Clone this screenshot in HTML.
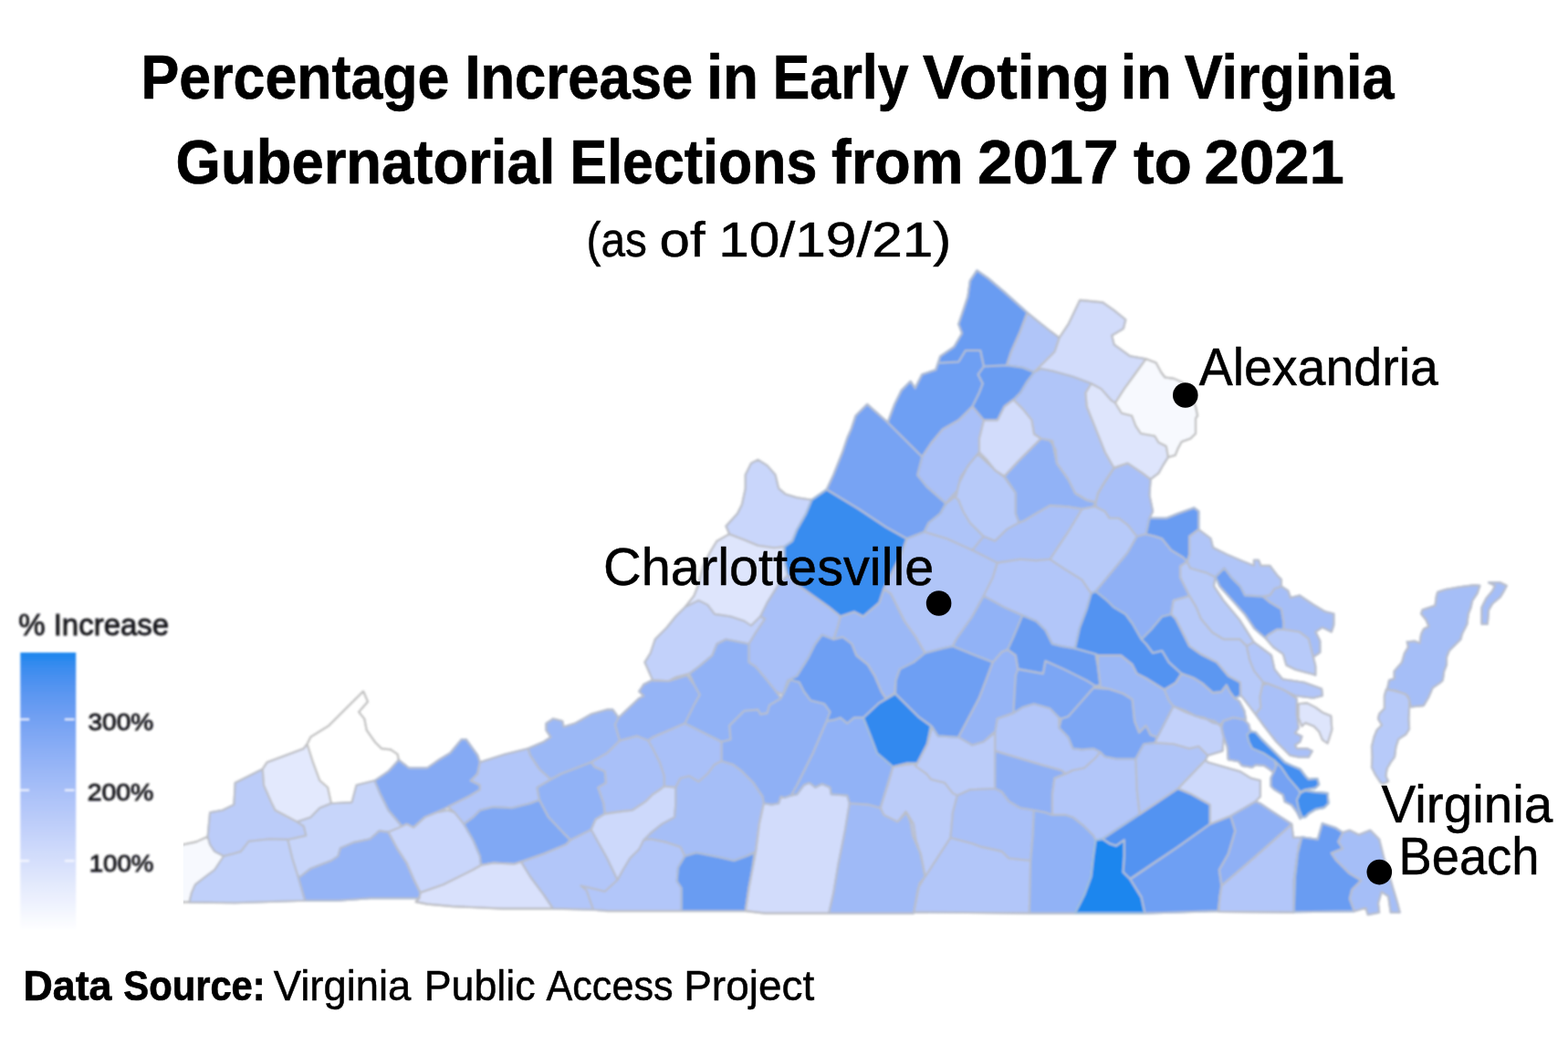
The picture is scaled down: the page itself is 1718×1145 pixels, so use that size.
<!DOCTYPE html>
<html lang="en">
<head>
<meta charset="utf-8">
<title>Percentage Increase in Early Voting in Virginia Gubernatorial Elections from 2017 to 2021</title>
<style>
html,body{margin:0;padding:0;background:#fff;}
body{width:1718px;height:1145px;overflow:hidden;font-family:"Liberation Sans",sans-serif;}
svg{display:block;}
text{font-family:"Liberation Sans",sans-serif;fill:#000;}
.b{font-weight:bold;stroke:#000;stroke-width:0.7;}
.r{font-weight:normal;stroke:#000;stroke-width:0.5;}
.lg{fill:#1a1a1f;stroke:#1a1a1f;stroke-width:0.9;}
</style>
</head>
<body>
<svg width="1718" height="1145" viewBox="0 0 1718 1145" role="img" aria-label="Choropleth map of Virginia counties: percentage increase in early voting, 2017 to 2021">
<defs>
<linearGradient id="lg" x1="0" y1="0" x2="0" y2="1">
<stop offset="0.000" stop-color="#1c86ee"/>
<stop offset="0.050" stop-color="#398cef"/>
<stop offset="0.100" stop-color="#4c91f0"/>
<stop offset="0.150" stop-color="#5c97f1"/>
<stop offset="0.200" stop-color="#699cf2"/>
<stop offset="0.250" stop-color="#75a2f3"/>
<stop offset="0.300" stop-color="#80a8f4"/>
<stop offset="0.350" stop-color="#8baef5"/>
<stop offset="0.400" stop-color="#95b4f6"/>
<stop offset="0.450" stop-color="#9fbaf7"/>
<stop offset="0.500" stop-color="#a9c0f8"/>
<stop offset="0.550" stop-color="#b2c6f9"/>
<stop offset="0.600" stop-color="#bbccf9"/>
<stop offset="0.650" stop-color="#c4d2fa"/>
<stop offset="0.700" stop-color="#cdd9fb"/>
<stop offset="0.750" stop-color="#d5dffc"/>
<stop offset="0.800" stop-color="#dee5fc"/>
<stop offset="0.850" stop-color="#e6ecfd"/>
<stop offset="0.900" stop-color="#eef2fe"/>
<stop offset="0.950" stop-color="#f7f9fe"/>
<stop offset="1.000" stop-color="#ffffff"/>
</linearGradient>
<filter id="bl" x="-2%" y="-2%" width="104%" height="104%"><feGaussianBlur stdDeviation="1.0"/></filter>
<filter id="bt" x="-5%" y="-5%" width="110%" height="110%"><feGaussianBlur stdDeviation="0.9"/></filter>
<clipPath id="mc"><rect x="200.8" y="285" width="1500" height="730"/></clipPath>
</defs>
<rect width="1718" height="1145" fill="#ffffff"/>
<g id="map" filter="url(#bl)" clip-path="url(#mc)">
<g id="fills" stroke-width="2" stroke-linejoin="round">
<polygon fill="#f7f9fe" stroke="#f7f9fe" points="195.0,926.7 215.1,922.4 227.6,916.7 230.1,925.4 235.1,932.9 245.1,938.0 240.1,945.5 235.1,953.0 225.1,960.5 213.8,969.3 210.0,978.1 207.5,988.1 195.0,988.6"/>
<polygon fill="#c0d0fa" stroke="#c0d0fa" points="210.0,978.1 213.8,969.3 225.1,960.5 235.1,953.0 240.1,945.5 245.1,938.0 255.2,935.5 263.9,932.9 272.7,921.7 295.2,919.2 315.3,919.9 320.3,940.5 326.6,960.5 334.1,986.8 257.7,989.3 207.5,988.6"/>
<polygon fill="#bbccf9" stroke="#bbccf9" points="227.6,916.7 230.1,890.3 243.9,887.8 256.4,881.6 257.7,857.8 272.7,850.3 287.7,842.7 289.0,860.3 297.8,880.3 301.5,887.8 325.3,900.4 332.8,905.4 335.3,915.4 315.3,919.9 295.2,919.2 272.7,921.7 263.9,932.9 255.2,935.5 245.1,938.0 235.1,932.9 230.1,925.4"/>
<polygon fill="#e3e9fd" stroke="#e3e9fd" points="287.7,842.7 292.7,835.2 312.8,827.7 332.8,820.2 336.6,815.2 342.9,835.2 350.4,855.3 359.1,862.8 362.9,880.3 350.4,885.3 340.3,895.4 325.3,900.4 301.5,887.8 297.8,880.3 289.0,860.3"/>
<polygon fill="#ffffff" stroke="#ffffff" points="336.6,815.2 340.3,807.7 360.4,795.1 398.0,757.5 403.0,768.8 393.0,780.1 399.2,787.6 401.7,800.1 410.5,812.7 418.0,820.2 428.1,821.4 435.6,826.5 436.8,832.7 425.5,845.2 410.5,855.3 390.5,860.3 385.5,879.1 362.9,880.3 359.1,862.8 350.4,855.3 342.9,835.2"/>
<polygon fill="#c7d5fa" stroke="#c7d5fa" points="362.9,880.3 385.5,879.1 390.5,860.3 410.5,855.3 416.8,870.3 425.5,887.8 438.1,902.9 440.6,905.4 425.5,911.6 415.5,910.4 405.5,919.2 388.0,922.9 372.9,929.2 370.4,938.0 362.9,943.0 340.3,951.7 329.1,960.5 326.6,960.5 320.3,940.5 315.3,919.9 335.3,915.4 332.8,905.4 325.3,900.4 340.3,895.4 350.4,885.3"/>
<polygon fill="#85aaf4" stroke="#85aaf4" points="410.5,855.3 425.5,845.2 436.8,832.7 448.1,841.5 468.1,841.5 480.7,832.7 493.2,825.2 505.7,810.2 510.7,810.2 523.3,827.7 525.8,835.2 523.3,847.8 515.8,855.3 525.8,860.3 525.8,865.3 513.3,872.8 490.7,884.1 478.2,890.3 465.6,895.4 453.1,906.6 445.6,902.9 440.6,905.4 425.5,887.8 416.8,870.3"/>
<polygon fill="#95b4f6" stroke="#95b4f6" points="329.1,960.5 340.3,951.7 362.9,943.0 370.4,938.0 372.9,929.2 388.0,922.9 405.5,919.2 415.5,910.4 425.5,911.6 435.6,930.4 445.6,945.5 453.1,963.0 460.6,978.1 459.4,984.3 405.5,984.3 370.4,986.8 334.1,986.8 326.6,960.5"/>
<polygon fill="#c9d6fb" stroke="#c9d6fb" points="425.5,911.6 440.6,905.4 445.6,902.9 453.1,906.6 465.6,895.4 478.2,890.3 490.7,887.8 498.2,890.3 508.2,902.9 518.3,920.4 525.8,938.0 527.0,948.0 518.3,953.0 485.7,969.3 460.6,978.1 453.1,963.0 445.6,945.5 435.6,930.4"/>
<polygon fill="#b2c6f9" stroke="#b2c6f9" points="525.8,835.2 553.3,826.5 578.4,820.2 580.9,827.7 590.9,842.7 603.5,854.0 588.4,862.8 590.9,876.6 580.9,880.3 560.9,885.3 540.8,884.1 525.8,887.8 518.3,895.4 508.2,902.9 498.2,890.3 490.7,884.1 513.3,872.8 525.8,865.3 525.8,860.3 515.8,855.3 523.3,847.8"/>
<polygon fill="#80a8f4" stroke="#80a8f4" points="508.2,902.9 518.3,895.4 525.8,887.8 540.8,884.1 560.9,885.3 580.9,880.3 590.9,876.6 601.0,895.4 617.5,912.9 625.0,920.4 620.0,925.4 595.9,935.5 570.9,944.2 563.4,946.7 540.8,945.5 527.0,948.0 525.8,938.0 518.3,920.4"/>
<polygon fill="#d9e1fc" stroke="#d9e1fc" points="460.6,978.1 485.7,969.3 518.3,953.0 527.0,948.0 540.8,945.5 563.4,946.7 570.9,944.2 580.9,960.5 595.9,980.6 606.0,995.6 550.8,995.6 495.7,993.1 468.1,990.6 455.6,988.1 459.4,984.3"/>
<polygon fill="#9bb8f6" stroke="#9bb8f6" points="578.5,820.2 596.0,812.7 603.5,807.7 598.5,800.1 598.5,792.6 606.0,787.6 616.1,790.1 617.6,796.4 630.1,792.6 647.6,782.6 665.2,777.6 671.4,777.6 677.7,786.4 673.9,793.9 679.0,811.4 665.2,825.2 647.6,835.2 615.1,847.8 603.5,854.0 591.0,842.7 581.0,827.7"/>
<polygon fill="#95b4f6" stroke="#95b4f6" points="677.7,786.4 700.3,765.1 705.3,762.6 700.3,757.5 705.3,750.0 715.3,745.0 732.8,746.3 752.9,740.0 760.4,750.0 766.7,761.3 760.4,772.6 750.4,792.6 715.3,807.7 710.3,811.4 697.8,806.4 679.0,811.4 673.9,793.9"/>
<polygon fill="#91b2f6" stroke="#91b2f6" points="603.5,854.0 615.1,847.8 647.6,835.2 651.4,840.2 662.7,845.2 663.9,857.8 655.2,862.8 661.4,880.3 662.7,891.6 652.6,897.9 647.6,909.1 625.1,920.4 617.6,912.9 601.0,895.4 591.0,876.6 588.5,862.8"/>
<polygon fill="#a9c0f8" stroke="#a9c0f8" points="679.0,811.4 697.8,806.4 710.3,811.4 715.3,820.2 722.8,835.2 727.8,850.3 727.8,861.5 722.8,865.3 715.3,870.3 707.8,877.8 692.7,887.8 680.2,889.1 662.7,891.6 661.4,880.3 655.2,862.8 663.9,857.8 662.7,845.2 651.4,840.2 647.6,835.2 665.2,825.2"/>
<polygon fill="#a9c0f8" stroke="#a9c0f8" points="710.3,811.4 715.3,807.7 750.4,792.6 790.5,812.7 790.5,834.0 782.9,837.7 775.4,847.8 765.4,856.5 755.4,850.3 745.4,852.8 740.3,862.8 727.8,861.5 727.8,850.3 722.8,835.2 715.3,820.2"/>
<polygon fill="#cdd9fb" stroke="#cdd9fb" points="727.8,861.5 740.3,862.8 740.3,880.3 739.1,895.4 725.3,902.9 712.8,912.9 705.3,920.4 700.3,930.4 690.2,940.5 682.7,953.0 676.5,964.3 665.2,940.5 647.6,909.1 652.6,897.9 662.7,891.6 680.2,889.1 692.7,887.8 707.8,877.8 715.3,870.3 722.8,865.3"/>
<polygon fill="#a5bef7" stroke="#a5bef7" points="740.3,862.8 745.4,852.8 755.4,850.3 765.4,856.5 775.4,847.8 782.9,837.7 790.5,834.0 803.0,837.7 813.0,845.2 825.5,857.8 835.6,872.8 836.8,880.3 831.8,902.9 828.1,932.9 818.0,938.0 804.2,943.0 788.0,939.2 762.9,934.2 750.4,938.0 745.4,927.9 730.3,922.9 712.8,919.2 705.3,920.4 712.8,912.9 725.3,902.9 739.1,895.4 740.3,880.3"/>
<polygon fill="#b2c6f9" stroke="#b2c6f9" points="676.5,964.3 682.7,953.0 690.2,940.5 700.3,930.4 705.3,920.4 712.8,919.2 730.3,922.9 745.4,927.9 750.4,938.0 742.9,950.5 741.6,965.5 746.6,973.0 746.6,998.1 665.2,998.1 650.1,996.8 642.6,975.5 636.4,970.5 652.6,974.3 662.7,976.8"/>
<polygon fill="#b2c6f9" stroke="#b2c6f9" points="571.0,944.2 596.0,935.5 620.1,925.4 625.1,920.4 647.6,909.1 665.2,940.5 676.5,964.3 662.7,976.8 652.6,974.3 636.4,970.5 642.6,975.5 650.1,996.8 606.0,995.6 596.0,980.6 581.0,960.5"/>
<polygon fill="#699cf2" stroke="#699cf2" points="750.4,938.0 762.9,934.2 788.0,939.2 804.2,943.0 818.0,938.0 826.8,934.2 824.3,953.0 820.5,973.0 816.8,998.1 746.6,998.1 746.6,973.0 741.6,965.5 742.9,950.5"/>
<polygon fill="#d2dcfb" stroke="#d2dcfb" points="836.8,880.3 845.6,881.6 853.1,880.3 855.6,872.8 859.4,874.1 866.9,871.6 873.2,870.3 880.7,860.3 886.9,857.8 893.2,862.8 900.7,859.0 909.5,862.8 910.7,870.3 928.3,871.6 930.8,880.3 925.8,910.4 918.3,948.0 913.3,978.1 908.2,1000.6 838.1,1000.6 816.8,998.1 820.5,973.0 824.3,953.0 828.1,932.9 831.8,902.9"/>
<polygon fill="#8fb0f5" stroke="#8fb0f5" points="790.5,812.7 800.5,810.2 799.2,795.1 815.5,778.8 830.6,777.6 833.1,782.6 840.6,781.3 843.1,772.6 855.6,765.1 861.9,752.5 865.6,745.0 875.7,747.5 880.7,757.5 888.2,767.6 903.2,771.3 909.5,780.1 905.7,790.1 890.7,825.2 873.2,860.3 866.9,871.6 859.4,874.1 855.6,872.8 853.1,880.3 845.6,881.6 836.8,880.3 835.6,872.8 825.5,857.8 813.0,845.2 803.0,837.7 790.5,834.0"/>
<polygon fill="#91b2f6" stroke="#91b2f6" points="905.7,790.1 913.3,788.9 920.8,786.4 928.3,792.6 935.8,786.4 945.8,786.4 953.3,805.2 960.9,825.2 978.4,840.2 973.4,857.8 964.6,885.3 950.8,881.6 930.8,880.3 928.3,871.6 910.7,870.3 909.5,862.8 900.7,859.0 893.2,862.8 886.9,857.8 880.7,860.3 873.2,870.3 866.9,871.6 873.2,860.3 890.7,825.2"/>
<polygon fill="#3089ef" stroke="#3089ef" points="945.8,786.4 963.4,770.1 980.9,760.0 990.9,770.1 1006.0,785.1 1020.0,795.1 1016.0,815.2 1005.0,836.5 993.4,837.7 978.4,840.2 960.9,825.2 953.3,805.2"/>
<polygon fill="#9fbaf7" stroke="#9fbaf7" points="930.8,880.3 950.8,881.6 964.6,885.3 968.4,892.9 983.4,900.4 993.4,890.3 1001.0,902.9 1003.5,920.4 1008.5,935.5 1013.5,960.5 1006.0,973.0 1001.0,1000.6 908.2,1000.6 913.3,978.1 918.3,948.0 925.8,910.4"/>
<polygon fill="#bbccf9" stroke="#bbccf9" points="1005.0,836.5 1002.5,839.0 1015.1,847.8 1020.1,854.0 1035.1,857.8 1043.9,869.1 1048.9,871.6 1043.9,890.3 1041.4,917.9 1013.8,960.5 1008.8,935.5 1000.0,915.4 997.5,900.4 992.5,889.1 983.5,900.4 968.4,892.9 964.7,885.3 978.5,840.2 993.5,836.5"/>
<polygon fill="#bbccf9" stroke="#bbccf9" points="1021.3,796.4 1027.6,806.4 1050.1,807.7 1065.2,816.4 1077.7,812.7 1089.0,802.6 1090.2,802.6 1090.2,822.7 1090.2,864.0 1062.7,865.3 1048.9,871.6 1043.9,869.1 1035.1,857.8 1020.1,854.0 1015.1,847.8 1002.5,839.0 1005.0,836.5 1016.1,815.2"/>
<polygon fill="#a9c0f8" stroke="#a9c0f8" points="1048.9,871.6 1062.7,865.3 1090.2,864.0 1097.8,867.8 1105.3,877.8 1117.8,885.3 1132.8,887.8 1131.6,915.4 1129.1,943.0 1105.3,940.5 1097.8,932.9 1075.2,927.9 1065.2,924.2 1041.4,917.9 1043.9,890.3"/>
<polygon fill="#b2c6f9" stroke="#b2c6f9" points="1041.4,917.9 1065.2,924.2 1075.2,927.9 1097.8,932.9 1105.3,940.5 1129.1,943.0 1127.8,1000.6 1001.3,999.4 1007.5,968.0 1013.8,960.5"/>
<polygon fill="#8fb0f5" stroke="#8fb0f5" points="1090.2,822.7 1115.3,830.2 1140.3,837.7 1162.9,844.0 1167.9,847.8 1155.4,852.8 1152.9,870.3 1152.9,892.9 1145.4,890.3 1132.8,887.8 1117.8,885.3 1105.3,877.8 1097.8,867.8 1090.2,864.0"/>
<polygon fill="#b2c6f9" stroke="#b2c6f9" points="1090.2,802.6 1092.7,787.6 1110.3,781.3 1120.3,775.1 1132.8,771.3 1150.4,776.3 1160.4,786.4 1160.4,797.6 1170.4,807.7 1175.4,820.2 1185.5,821.4 1198.0,820.2 1205.5,823.9 1200.5,830.2 1188.0,841.5 1175.4,844.0 1167.9,847.8 1162.9,844.0 1140.3,837.7 1115.3,830.2 1090.2,822.7"/>
<polygon fill="#b2c6f9" stroke="#b2c6f9" points="1167.9,847.8 1175.4,844.0 1188.0,841.5 1200.5,830.2 1205.5,823.9 1210.5,829.0 1223.0,831.5 1244.3,831.5 1245.6,865.3 1248.6,892.1 1208.0,919.2 1200.5,920.4 1198.0,915.4 1188.0,905.4 1175.4,895.4 1167.9,892.9 1152.9,892.9 1152.9,870.3 1155.4,852.8"/>
<polygon fill="#91b2f6" stroke="#91b2f6" points="1132.8,887.8 1145.4,890.3 1152.9,892.9 1167.9,892.9 1175.4,895.4 1188.0,905.4 1198.0,915.4 1200.5,920.4 1198.0,938.0 1195.5,960.5 1188.0,980.6 1177.9,1000.6 1127.8,1000.6 1129.1,943.0 1131.6,915.4"/>
<polygon fill="#1c86ee" stroke="#1c86ee" points="1200.5,920.4 1208.0,919.2 1215.5,924.2 1223.0,926.7 1231.8,920.4 1231.8,938.0 1230.6,955.5 1238.1,963.0 1250.6,983.1 1254.4,1000.6 1177.9,1000.6 1188.0,980.6 1195.5,960.5 1198.0,938.0"/>
<polygon fill="#5393f1" stroke="#5393f1" points="1208.0,919.2 1248.6,892.1 1290.7,864.0 1305.7,870.3 1325.8,881.6 1325.8,902.9 1290.7,927.9 1240.6,961.8 1238.1,963.0 1230.6,955.5 1231.8,938.0 1231.8,920.4 1223.0,926.7 1215.5,924.2"/>
<polygon fill="#6e9ff3" stroke="#6e9ff3" points="1238.1,963.0 1290.7,927.9 1325.8,902.9 1348.3,894.1 1353.3,910.4 1345.8,935.5 1335.8,953.0 1338.3,970.5 1334.6,998.1 1254.4,1000.6 1250.6,983.1"/>
<polygon fill="#b0c5f8" stroke="#b0c5f8" points="1244.3,831.5 1253.1,815.2 1265.6,813.9 1285.7,815.2 1303.2,820.2 1313.3,817.7 1323.3,827.7 1320.8,832.7 1290.7,864.0 1248.6,892.1 1245.6,865.3"/>
<polygon fill="#cdd9fb" stroke="#cdd9fb" points="1290.7,864.0 1320.8,832.7 1323.3,835.2 1340.8,840.2 1358.4,845.2 1370.9,852.8 1380.9,855.3 1380.9,872.8 1375.9,877.8 1348.3,894.1 1325.8,902.9 1325.8,881.6 1305.7,870.3"/>
<polygon fill="#7ca6f4" stroke="#7ca6f4" points="1160.4,797.6 1162.9,787.6 1170.4,785.1 1198.0,753.8 1215.5,755.0 1230.6,760.0 1240.6,766.3 1243.1,790.1 1248.1,802.6 1255.6,795.1 1260.6,805.2 1268.1,807.7 1265.6,813.9 1253.1,815.2 1244.3,831.5 1223.0,831.5 1210.5,829.0 1205.5,823.9 1198.0,820.2 1185.5,821.4 1175.4,820.2 1170.4,807.7"/>
<polygon fill="#c2d1fa" stroke="#c2d1fa" points="1268.1,807.7 1285.7,773.8 1298.2,780.1 1315.8,786.4 1330.8,790.1 1338.3,796.4 1340.8,807.7 1339.6,822.7 1323.3,827.7 1313.3,817.7 1303.2,820.2 1285.7,815.2 1265.6,813.9"/>
<polygon fill="#8fb0f5" stroke="#8fb0f5" points="1340.0,790.1 1351.3,786.3 1362.6,788.2 1368.2,793.8 1370.1,801.4 1366.3,805.1 1368.2,812.6 1372.0,820.1 1385.1,825.8 1396.4,833.3 1398.3,838.9 1395.4,846.4 1390.7,842.7 1385.1,838.9 1375.7,838.0 1372.0,840.8 1360.7,838.9 1356.9,834.2 1345.7,832.3 1344.7,818.3 1340.0,805.1 1338.2,797.6"/>
<polygon fill="#75a2f3" stroke="#75a2f3" points="1398.3,835.2 1403.9,840.8 1411.4,852.1 1422.7,865.2 1424.5,869.0 1420.8,876.5 1422.7,885.9 1426.4,895.2 1424.5,897.1 1420.8,889.6 1415.2,882.1 1407.6,878.3 1405.8,870.8 1396.4,865.2 1392.6,861.4 1392.6,852.1 1395.4,846.4 1398.3,838.9"/>
<polygon fill="#458ff0" stroke="#458ff0" points="1366.3,805.1 1370.1,801.4 1375.7,802.3 1381.4,808.9 1390.7,818.3 1400.1,827.6 1407.6,835.2 1415.2,838.9 1424.5,842.7 1430.2,850.2 1433.9,853.9 1443.3,853.0 1445.2,859.6 1441.4,863.3 1430.2,865.2 1424.5,868.0 1422.7,865.2 1411.4,852.1 1403.9,840.8 1398.3,835.2 1396.4,833.3 1385.1,825.8 1372.0,820.1 1368.2,812.6"/>
<polygon fill="#418eef" stroke="#418eef" points="1424.5,869.0 1430.2,866.1 1441.4,868.0 1454.6,869.0 1455.5,880.2 1450.8,884.9 1441.4,886.8 1433.9,891.5 1430.2,895.2 1426.4,895.2 1422.7,885.9 1420.8,876.5"/>
<polygon fill="#a9c0f8" stroke="#a9c0f8" points="1383.2,750.7 1388.9,748.8 1407.6,756.3 1420.8,765.7 1420.8,782.6 1422.7,797.6 1418.9,803.2 1426.4,807.0 1424.5,812.6 1418.9,816.4 1420.8,820.1 1432.1,820.1 1437.7,822.9 1433.9,829.5 1422.7,829.5 1413.3,827.6 1398.3,812.6 1385.1,795.7 1375.7,782.6 1381.4,775.1 1380.4,763.8"/>
<polygon fill="#dee5fc" stroke="#dee5fc" points="1422.7,771.3 1432.1,770.4 1441.4,775.1 1449.0,780.7 1458.3,784.5 1459.3,799.5 1454.6,814.5 1449.0,810.7 1445.2,801.4 1439.6,795.7 1430.2,792.0 1426.4,795.7 1422.7,786.3"/>
<polygon fill="#8fb0f5" stroke="#8fb0f5" points="1349.4,893.4 1375.7,878.3 1380.4,880.2 1394.5,889.6 1415.2,902.8 1409.5,908.4 1375.7,938.4 1338.4,970.5 1335.9,953.1 1345.9,935.4 1353.4,910.4 1348.3,894.1"/>
<polygon fill="#b2c6f9" stroke="#b2c6f9" points="1375.7,938.4 1409.5,908.4 1415.2,902.8 1417.0,917.8 1426.4,917.8 1422.7,927.2 1420.8,945.0 1418.9,961.0 1417.6,999.6 1335.2,998.9 1336.3,983.5 1338.4,970.5"/>
<polygon fill="#699cf2" stroke="#699cf2" points="1426.3,917.3 1443.8,919.8 1448.8,902.3 1463.8,907.3 1471.3,912.3 1466.3,922.3 1471.3,929.8 1458.8,934.8 1463.8,942.3 1478.8,957.2 1491.3,964.7 1481.3,974.7 1478.8,984.7 1483.8,998.4 1417.6,999.2 1417.6,964.7 1421.3,937.3"/>
<polygon fill="#a5bef7" stroke="#a5bef7" points="1471.3,912.3 1478.8,909.8 1488.8,914.8 1501.3,909.8 1511.2,919.8 1516.2,939.8 1523.7,964.7 1531.2,989.7 1533.7,999.7 1523.7,999.7 1521.2,982.2 1513.7,977.2 1510.0,989.7 1511.2,999.7 1498.8,1002.2 1496.3,994.7 1483.8,998.4 1478.8,984.7 1481.3,974.7 1491.3,964.7 1478.8,957.2 1463.8,942.3 1458.8,934.8 1471.3,929.8 1466.3,922.3"/>
<polygon fill="#c9d6fb" stroke="#c9d6fb" points="830.6,503.8 840.6,510.1 849.4,520.1 853.1,535.1 860.6,541.4 873.2,545.2 889.4,547.7 883.2,562.7 873.2,580.2 868.1,592.8 859.4,599.0 848.1,600.3 830.6,597.8 815.5,591.5 799.2,585.2 795.5,576.5 808.0,562.7 813.0,552.7 816.8,535.1 816.8,520.1 823.0,507.6"/>
<polygon fill="#dee5fc" stroke="#dee5fc" points="799.2,585.2 815.5,591.5 830.6,597.8 848.1,600.3 859.4,599.0 859.4,615.3 863.1,630.3 853.1,640.4 840.6,660.4 833.1,675.5 823.0,685.5 815.5,680.5 800.5,675.5 782.9,672.9 775.4,662.9 765.4,657.9 750.4,665.4 760.4,652.9 765.4,640.4 770.4,620.3 777.9,605.3 785.5,592.8"/>
<polygon fill="#c2d1fa" stroke="#c2d1fa" points="750.4,665.4 765.4,657.9 775.4,662.9 782.9,672.9 800.5,675.5 815.5,680.5 823.0,685.5 833.1,675.5 838.1,678.0 828.1,693.0 820.5,705.5 795.5,700.5 785.5,705.5 780.4,718.1 765.4,730.6 755.4,738.1 740.3,741.9 732.8,746.1 715.3,745.6 706.5,725.6 712.8,715.5 717.8,700.5 730.3,688.0 740.3,675.5"/>
<polygon fill="#398cef" stroke="#398cef" points="889.4,547.7 905.7,536.4 940.8,557.7 970.9,577.7 993.4,590.3 988.4,605.3 975.9,630.3 968.4,645.4 963.4,660.4 945.8,675.5 935.8,670.4 920.8,675.5 908.2,665.4 890.7,652.9 873.2,640.4 863.1,630.3 859.4,615.3 859.4,599.0 868.1,592.8 873.2,580.2 883.2,562.7"/>
<polygon fill="#a9c0f8" stroke="#a9c0f8" points="853.1,640.4 863.1,630.3 873.2,640.4 890.7,652.9 908.2,665.4 920.8,675.5 918.3,685.5 913.3,700.5 900.7,695.5 893.2,705.5 885.7,720.6 873.2,740.6 863.1,745.6 858.1,760.7 850.6,758.1 840.6,745.6 828.1,730.6 820.5,725.6 820.5,705.5 828.1,693.0 838.1,678.0 833.1,675.5 840.6,660.4"/>
<polygon fill="#91b2f6" stroke="#91b2f6" points="755.4,738.1 765.4,730.6 780.4,718.1 785.5,705.5 795.5,700.5 820.5,705.5 820.5,725.6 828.1,730.6 840.6,745.6 850.6,758.1 855.6,765.1 843.1,772.6 840.6,781.4 833.1,782.6 830.6,777.6 815.5,778.8 799.2,795.1 800.5,810.2 790.5,812.7 750.4,792.6 760.4,772.6 766.7,761.3 760.4,750.0"/>
<polygon fill="#6e9ff3" stroke="#6e9ff3" points="863.1,745.6 873.2,740.6 885.7,720.6 893.2,705.5 900.7,695.5 913.3,700.5 923.3,698.0 933.3,705.5 938.3,718.1 950.8,728.1 958.4,740.6 965.9,758.1 970.9,765.7 963.4,770.1 945.8,786.4 935.8,786.4 928.3,792.6 920.8,786.4 913.3,788.9 905.7,790.1 909.5,780.1 903.2,771.3 888.2,767.6 880.7,757.5 875.7,747.5 865.6,745.0 858.1,760.7"/>
<polygon fill="#9bb8f6" stroke="#9bb8f6" points="920.8,675.5 935.8,670.4 945.8,675.5 963.4,660.4 968.4,645.4 975.9,650.4 983.4,665.4 990.9,680.5 1003.5,698.0 1013.5,715.5 1001.0,725.6 985.9,733.1 981.4,745.6 980.4,759.4 970.9,765.7 965.9,758.1 958.4,740.6 950.8,728.1 938.3,718.1 933.3,705.5 923.3,698.0 913.3,700.5 918.3,685.5"/>
<polygon fill="#b0c5f8" stroke="#b0c5f8" points="993.5,590.3 1012.6,582.7 1037.6,590.3 1065.2,602.8 1092.7,616.6 1087.7,632.9 1077.7,652.9 1065.2,675.5 1047.6,700.5 1043.9,708.0 1032.6,710.5 1013.6,715.5 1003.5,698.0 991.0,680.5 983.5,665.4 976.0,650.4 968.4,645.4 976.0,630.3 988.5,605.3"/>
<polygon fill="#aec4f8" stroke="#aec4f8" points="1012.6,582.7 1017.6,572.7 1030.1,562.7 1036.4,551.4 1043.9,542.6 1050.1,547.7 1055.2,560.2 1062.7,572.7 1077.7,587.8 1065.2,602.8 1037.6,590.3"/>
<polygon fill="#b7caf9" stroke="#b7caf9" points="1071.4,497.5 1090.2,515.1 1100.3,522.6 1112.8,540.1 1112.8,562.7 1116.5,572.7 1102.8,580.2 1090.2,592.8 1077.7,587.8 1062.7,572.7 1055.2,560.2 1050.1,547.7 1043.9,542.6 1048.9,537.6 1052.6,522.6 1062.7,507.6"/>
<polygon fill="#91b2f6" stroke="#91b2f6" points="1140.6,480.5 1150.4,482.5 1156.6,492.5 1157.9,507.6 1170.4,525.1 1177.9,540.1 1190.5,547.7 1200.5,550.2 1198.0,555.2 1185.5,557.7 1170.4,555.2 1150.4,553.9 1135.3,562.7 1122.8,570.2 1116.5,572.7 1112.8,562.7 1112.8,540.1 1100.5,521.8 1115.5,505.6 1130.6,490.5"/>
<polygon fill="#a9c0f8" stroke="#a9c0f8" points="1220.5,512.6 1235.6,507.6 1250.6,517.6 1260.6,525.1 1259.4,542.6 1263.1,560.2 1259.4,567.7 1255.6,585.2 1245.6,587.8 1235.6,575.2 1225.5,567.7 1215.5,567.7 1210.5,560.2 1200.5,555.2 1200.5,550.2 1203.0,540.1 1210.5,527.6"/>
<polygon fill="#699cf2" stroke="#699cf2" points="1259.4,567.7 1278.2,567.7 1290.7,562.7 1308.2,556.4 1313.3,560.2 1313.3,580.2 1303.2,587.8 1303.2,607.8 1300.7,615.3 1295.7,610.3 1283.2,602.8 1273.2,590.3 1265.6,587.8 1255.6,585.2"/>
<polygon fill="#a9c0f8" stroke="#a9c0f8" points="1077.7,587.8 1090.2,592.8 1102.8,580.2 1116.5,572.7 1122.8,570.2 1135.3,562.7 1150.4,553.9 1170.4,555.2 1185.5,557.7 1170.4,582.7 1150.4,612.8 1135.3,614.1 1117.8,612.8 1092.7,616.6 1065.2,602.8"/>
<polygon fill="#b7caf9" stroke="#b7caf9" points="1185.5,557.7 1198.0,555.2 1200.5,555.2 1210.5,560.2 1215.5,567.7 1225.5,567.7 1235.6,575.2 1245.6,587.8 1235.6,605.3 1200.5,647.9 1195.5,650.4 1185.5,635.4 1165.4,622.8 1150.4,612.8 1170.4,582.7"/>
<polygon fill="#8fb0f5" stroke="#8fb0f5" points="1245.6,587.8 1255.6,585.2 1265.6,587.8 1273.2,590.3 1283.2,602.8 1295.7,610.3 1300.7,615.3 1293.2,620.3 1293.2,632.9 1303.2,652.9 1285.7,657.9 1283.2,672.9 1273.2,675.5 1260.6,690.5 1250.6,700.5 1240.6,683.0 1233.1,672.9 1220.5,665.4 1213.0,657.9 1200.5,647.9 1235.6,605.3"/>
<polygon fill="#b2c6f9" stroke="#b2c6f9" points="1092.7,616.6 1117.8,612.8 1135.3,614.1 1150.4,612.8 1165.4,622.8 1185.5,635.4 1195.5,650.4 1190.5,667.9 1182.9,688.0 1177.9,710.5 1162.9,708.0 1152.9,705.5 1145.4,690.5 1135.3,680.5 1120.3,674.2 1100.3,665.4 1077.7,652.9 1087.7,632.9"/>
<polygon fill="#91b2f6" stroke="#91b2f6" points="1077.7,652.9 1100.3,665.4 1120.3,674.2 1110.3,698.0 1104.0,711.8 1097.8,714.3 1087.7,725.6 1065.2,716.8 1043.9,708.0 1047.6,700.5 1065.2,675.5"/>
<polygon fill="#699cf2" stroke="#699cf2" points="1120.3,674.2 1135.3,680.5 1145.4,690.5 1152.9,705.5 1162.9,708.0 1177.9,710.5 1200.5,716.8 1203.0,730.6 1205.5,750.6 1200.5,751.9 1190.5,745.6 1165.4,733.1 1145.4,724.3 1142.9,738.1 1115.3,733.1 1112.8,718.1 1104.0,711.8 1110.3,698.0"/>
<polygon fill="#5393f1" stroke="#5393f1" points="1195.5,650.4 1200.5,647.9 1213.0,657.9 1220.5,665.4 1233.1,672.9 1240.6,683.0 1250.6,700.5 1255.6,705.5 1263.1,715.5 1273.2,713.0 1280.7,725.6 1294.5,738.1 1288.2,748.1 1275.7,755.6 1255.6,743.1 1245.6,738.1 1240.6,728.1 1228.1,718.1 1203.0,718.1 1200.5,716.8 1177.9,710.5 1182.9,688.0 1190.5,667.9"/>
<polygon fill="#5c97f1" stroke="#5c97f1" points="1260.6,690.5 1273.2,675.5 1283.2,672.9 1288.2,678.0 1295.7,693.0 1303.2,708.0 1315.8,716.8 1333.3,725.6 1345.8,740.6 1358.9,747.6 1359.4,761.9 1352.8,765.2 1347.6,758.1 1343.8,750.6 1338.1,758.1 1328.8,759.1 1317.5,748.9 1308.2,743.1 1294.5,738.1 1280.7,725.6 1273.2,713.0 1263.1,715.5 1255.6,705.5 1250.6,700.5"/>
<polygon fill="#b7caf9" stroke="#b7caf9" points="1285.7,657.9 1303.2,652.9 1310.7,665.4 1315.8,678.0 1328.3,693.0 1340.8,700.5 1358.4,700.5 1365.9,708.0 1368.9,722.3 1373.9,734.8 1383.9,747.4 1383.2,750.6 1380.4,763.9 1381.4,775.2 1375.6,782.7 1362.4,765.2 1359.4,761.9 1358.9,747.6 1345.8,740.6 1333.3,725.6 1315.8,716.8 1303.2,708.0 1295.7,693.0 1288.2,678.0 1283.2,672.9"/>
<polygon fill="#6e9ff3" stroke="#6e9ff3" points="1013.6,715.5 1032.6,710.5 1043.9,708.0 1065.2,716.8 1087.7,725.6 1080.2,745.6 1072.7,765.1 1050.1,807.7 1027.6,806.4 1021.3,796.4 1006.0,785.1 991.0,770.1 981.0,760.1 981.5,745.6 986.0,733.1 1001.0,725.6"/>
<polygon fill="#95b4f6" stroke="#95b4f6" points="1087.7,725.6 1097.8,714.3 1104.0,711.8 1112.8,718.1 1115.3,733.1 1112.8,740.0 1110.3,781.4 1092.7,787.6 1090.2,802.7 1077.7,812.7 1065.2,816.4 1050.1,807.7 1072.7,765.1 1080.2,745.6"/>
<polygon fill="#7ca6f4" stroke="#7ca6f4" points="1115.3,733.1 1142.9,738.1 1145.4,724.3 1165.4,733.1 1190.5,745.6 1200.5,751.9 1198.0,753.8 1170.4,785.1 1162.9,787.6 1160.4,786.4 1150.4,776.3 1132.8,771.3 1120.3,775.1 1110.3,781.4 1112.8,740.0"/>
<polygon fill="#9bb8f6" stroke="#9bb8f6" points="1203.0,718.1 1228.1,718.1 1240.6,728.1 1245.6,738.1 1255.6,743.1 1275.7,755.6 1280.7,767.6 1285.7,773.8 1268.1,807.7 1260.6,805.2 1255.6,795.1 1248.1,802.7 1243.1,790.1 1240.6,766.3 1230.6,760.1 1215.5,755.0 1200.5,751.9 1205.5,750.6 1203.0,730.6"/>
<polygon fill="#9bb8f6" stroke="#9bb8f6" points="1275.7,755.6 1288.2,748.1 1294.5,738.1 1308.2,743.1 1317.5,748.9 1328.8,759.1 1338.1,758.1 1343.8,750.6 1347.6,758.1 1352.8,765.2 1357.9,768.2 1363.4,778.9 1365.1,788.7 1351.3,786.2 1340.1,790.0 1338.1,793.7 1328.8,792.0 1319.3,786.2 1310.0,784.5 1298.7,778.7 1285.7,773.8 1280.7,767.6"/>
<polygon fill="#b7caf9" stroke="#b7caf9" points="1293.2,620.3 1293.2,632.8 1303.2,652.9 1310.7,665.4 1315.7,677.9 1328.2,692.8 1340.7,700.3 1358.4,700.3 1365.9,707.8 1373.7,703.6 1357.9,678.9 1340.4,657.9 1330.0,642.2 1331.5,632.4 1321.5,627.4 1304.0,622.4 1300.7,615.3"/>
<polygon fill="#b0c5f8" stroke="#b0c5f8" points="1303.2,587.7 1313.2,580.2 1326.5,590.0 1329.0,600.0 1343.9,607.4 1361.4,614.9 1373.9,619.9 1373.9,613.7 1378.9,613.7 1381.4,619.9 1391.4,619.9 1398.9,629.9 1403.9,634.9 1403.9,642.4 1396.4,644.9 1391.4,652.4 1383.9,653.6 1363.9,652.4 1358.9,642.4 1348.9,632.4 1341.4,622.4 1331.5,632.4 1321.5,627.4 1304.0,622.4 1300.7,615.3 1303.2,607.7"/>
<polygon fill="#6e9ff3" stroke="#6e9ff3" points="1331.5,632.4 1341.4,622.4 1348.9,632.4 1358.9,642.4 1363.9,652.4 1383.9,653.6 1391.4,659.9 1403.9,667.4 1406.4,682.4 1406.4,689.8 1398.9,689.8 1388.9,696.1 1386.6,699.3 1374.5,688.8 1364.0,673.2 1350.1,657.6 1336.2,642.2 1333.4,635.7"/>
<polygon fill="#a5bef7" stroke="#a5bef7" points="1391.4,652.4 1396.4,644.9 1403.9,642.4 1411.4,647.4 1413.9,654.9 1423.8,652.4 1438.8,662.4 1451.3,669.9 1461.3,672.4 1461.3,684.9 1458.8,692.3 1448.8,687.4 1441.3,692.3 1446.3,702.3 1446.3,714.8 1438.8,719.8 1436.3,709.8 1433.8,699.8 1423.8,692.3 1406.4,689.8 1406.4,682.4 1403.9,667.4 1391.4,659.9 1383.9,653.6"/>
<polygon fill="#b7caf9" stroke="#b7caf9" points="1388.9,696.1 1398.9,689.8 1406.4,689.8 1423.8,692.3 1433.8,699.8 1436.3,709.8 1438.8,719.8 1441.3,729.8 1441.3,739.8 1439.6,739.0 1419.6,733.8 1409.4,728.8 1405.9,716.6 1395.4,709.4 1386.6,699.3"/>
<polygon fill="#b2c6f9" stroke="#b2c6f9" points="1373.7,703.6 1392.9,717.8 1396.4,733.3 1405.4,744.3 1428.8,747.8 1448.1,754.8 1448.8,762.3 1438.8,764.8 1418.8,762.3 1403.9,754.8 1383.9,747.3 1373.9,734.8 1368.9,722.3 1365.9,707.8"/>
<polygon fill="#699cf2" stroke="#699cf2" points="1070.4,296.3 1082.9,305.1 1100.5,320.1 1125.5,342.6 1118.0,362.7 1108.0,385.2 1103.0,400.3 1077.9,401.5 1074.2,384.0 1057.9,384.0 1050.3,396.5 1027.8,397.8 1030.3,390.3 1045.3,380.2 1054.1,365.2 1050.3,355.2 1055.4,340.1 1060.4,325.1 1062.9,307.6"/>
<polygon fill="#b0c5f8" stroke="#b0c5f8" points="1125.5,342.6 1138.1,352.7 1150.6,362.7 1160.6,370.2 1155.6,385.2 1145.6,395.3 1133.0,407.8 1120.5,402.8 1103.0,400.3 1108.0,385.2 1118.0,362.7"/>
<polygon fill="#d2dcfb" stroke="#d2dcfb" points="1160.6,370.2 1170.6,355.2 1183.2,328.9 1208.2,331.4 1220.7,340.1 1233.3,350.2 1230.8,360.2 1218.2,367.7 1220.7,377.7 1238.3,390.3 1255.5,393.3 1242.9,410.8 1231.7,426.1 1221.9,441.5 1217.7,438.7 1206.6,426.1 1195.7,420.3 1175.6,412.8 1153.1,406.5 1140.6,404.0 1133.0,407.8 1145.6,395.3 1155.6,385.2"/>
<polygon fill="#b0c5f8" stroke="#b0c5f8" points="1133.0,407.8 1140.6,404.0 1153.1,406.5 1175.6,412.8 1195.7,420.3 1189.4,430.3 1190.7,445.4 1200.7,470.4 1210.7,495.5 1220.7,513.0 1210.7,528.1 1203.2,540.6 1200.7,550.6 1190.7,548.1 1178.1,540.6 1170.6,525.6 1158.1,508.0 1153.1,483.0 1140.6,480.5 1133.0,475.5 1130.5,460.4 1120.5,447.9 1110.5,437.9 1118.0,430.3 1125.5,417.8"/>
<polygon fill="#699cf2" stroke="#699cf2" points="1077.9,401.5 1103.0,400.3 1120.5,402.8 1133.0,407.8 1125.5,417.8 1118.0,430.3 1110.5,437.9 1100.5,445.4 1092.9,460.4 1077.9,460.4 1065.4,445.4 1072.9,430.3 1076.7,420.3 1071.6,410.3"/>
<polygon fill="#6e9ff3" stroke="#6e9ff3" points="1027.8,397.8 1050.3,396.5 1057.9,384.0 1074.2,384.0 1077.9,401.5 1071.6,410.3 1076.7,420.3 1072.9,430.3 1065.4,445.4 1050.3,460.4 1032.8,470.4 1020.3,485.5 1010.3,500.5 972.7,462.9 980.2,442.9 987.7,427.8 997.7,417.8 1002.7,425.3 1010.3,410.3 1025.3,405.3"/>
<polygon fill="#a9c0f8" stroke="#a9c0f8" points="1010.3,500.5 1020.3,485.5 1032.8,470.4 1050.3,460.4 1065.4,445.4 1077.9,460.4 1072.9,480.5 1072.9,495.5 1060.4,510.5 1050.3,530.6 1047.8,543.1 1036.6,551.9 1015.3,533.1 1005.2,520.6"/>
<polygon fill="#77a3f3" stroke="#77a3f3" points="950.1,442.9 972.7,462.9 1010.3,500.5 1005.2,520.6 1015.3,533.1 1036.6,551.9 1030.1,562.7 1017.5,572.7 1012.5,582.7 993.5,590.2 970.9,577.7 940.8,557.6 905.8,536.3 913.3,520.1 923.3,495.0 928.3,480.0 932.6,470.4 937.6,455.4"/>
<polygon fill="#d2dcfb" stroke="#d2dcfb" points="1077.9,460.4 1092.9,460.4 1100.5,445.4 1110.5,437.9 1120.5,447.9 1130.5,460.4 1133.0,475.5 1140.6,480.5 1130.5,490.5 1115.5,505.5 1100.5,521.8 1090.4,515.5 1080.4,503.0 1072.9,495.5 1072.9,480.5"/>
<polygon fill="#dee5fc" stroke="#dee5fc" points="1195.7,420.2 1206.6,426.1 1217.7,438.7 1221.9,441.5 1228.9,452.7 1240.1,455.5 1244.3,466.6 1249.9,475.0 1265.2,477.8 1269.4,484.8 1277.8,489.0 1279.9,500.9 1275.0,508.6 1269.4,518.4 1260.6,525.1 1250.6,517.7 1235.6,507.6 1220.7,513.0 1210.7,495.4 1200.7,470.4 1190.6,445.4 1189.4,430.3"/>
<polygon fill="#f7f9fe" stroke="#f7f9fe" points="1255.5,393.3 1266.6,397.5 1272.2,408.0 1276.4,413.5 1286.2,414.9 1296.0,419.1 1305.8,435.9 1310.0,445.7 1312.1,455.5 1310.0,458.3 1310.0,475.0 1304.4,480.6 1294.6,484.1 1290.4,491.8 1287.6,498.8 1279.9,500.9 1277.8,489.0 1269.4,484.8 1265.2,477.8 1249.9,475.0 1244.3,466.6 1240.1,455.5 1228.9,452.7 1221.9,441.5 1231.7,426.1 1242.9,410.7"/>
<polygon fill="#a5bef7" stroke="#a5bef7" points="1575.2,648.8 1583.6,646.0 1599.0,643.2 1615.8,641.1 1621.4,641.8 1618.6,650.2 1613.0,658.5 1611.6,665.5 1608.8,672.5 1607.4,683.7 1601.8,694.9 1600.4,700.5 1587.8,713.0 1585.0,720.0 1585.0,728.4 1582.2,735.4 1580.8,745.2 1578.0,748.0 1569.7,753.6 1565.5,763.4 1559.9,773.1 1545.9,774.5 1543.1,763.4 1538.9,759.9 1520.0,755.0 1522.1,745.2 1527.7,743.8 1527.7,735.4 1536.1,725.6 1538.9,715.8 1543.1,708.9 1541.7,703.3 1550.1,702.6 1555.7,704.7 1557.1,694.9 1559.9,689.3 1565.5,686.5 1562.7,679.5 1557.1,672.5 1558.5,668.3 1572.5,663.4 1573.9,653.0"/>
<polygon fill="#a5bef7" stroke="#a5bef7" points="1631.1,638.3 1643.7,638.3 1650.7,641.8 1647.9,647.4 1643.7,654.3 1635.3,661.3 1631.1,668.3 1629.8,683.7 1623.5,683.7 1623.5,665.5 1628.4,655.7 1635.3,647.4 1638.1,641.8"/>
<polygon fill="#b7caf9" stroke="#b7caf9" points="1519.0,755.4 1529.4,756.8 1540.6,761.0 1544.1,766.6 1544.1,774.9 1543.4,787.5 1544.1,798.7 1540.6,804.3 1532.2,809.9 1529.4,818.3 1528.0,829.4 1523.9,835.0 1519.7,842.0 1518.3,850.4 1521.1,856.0 1515.5,858.8 1512.7,857.4 1507.1,849.0 1502.9,840.6 1503.6,829.4 1502.9,818.3 1505.7,807.1 1508.5,800.1 1514.1,794.5 1509.9,787.5 1511.3,781.9 1516.9,776.3 1516.9,762.4"/>
</g>
<path id="bd" d="M195.0 926.7 215.1 922.4 227.6 916.7 230.1 925.4 235.1 932.9 245.1 938.0 240.1 945.5 235.1 953.0 225.1 960.5 213.8 969.3 210.0 978.1 207.5 988.1 195.0 988.6ZM210.0 978.1 213.8 969.3 225.1 960.5 235.1 953.0 240.1 945.5 245.1 938.0 255.2 935.5 263.9 932.9 272.7 921.7 295.2 919.2 315.3 919.9 320.3 940.5 326.6 960.5 334.1 986.8 257.7 989.3 207.5 988.6ZM227.6 916.7 230.1 890.3 243.9 887.8 256.4 881.6 257.7 857.8 272.7 850.3 287.7 842.7 289.0 860.3 297.8 880.3 301.5 887.8 325.3 900.4 332.8 905.4 335.3 915.4 315.3 919.9 295.2 919.2 272.7 921.7 263.9 932.9 255.2 935.5 245.1 938.0 235.1 932.9 230.1 925.4ZM287.7 842.7 292.7 835.2 312.8 827.7 332.8 820.2 336.6 815.2 342.9 835.2 350.4 855.3 359.1 862.8 362.9 880.3 350.4 885.3 340.3 895.4 325.3 900.4 301.5 887.8 297.8 880.3 289.0 860.3ZM336.6 815.2 340.3 807.7 360.4 795.1 398.0 757.5 403.0 768.8 393.0 780.1 399.2 787.6 401.7 800.1 410.5 812.7 418.0 820.2 428.1 821.4 435.6 826.5 436.8 832.7 425.5 845.2 410.5 855.3 390.5 860.3 385.5 879.1 362.9 880.3 359.1 862.8 350.4 855.3 342.9 835.2ZM362.9 880.3 385.5 879.1 390.5 860.3 410.5 855.3 416.8 870.3 425.5 887.8 438.1 902.9 440.6 905.4 425.5 911.6 415.5 910.4 405.5 919.2 388.0 922.9 372.9 929.2 370.4 938.0 362.9 943.0 340.3 951.7 329.1 960.5 326.6 960.5 320.3 940.5 315.3 919.9 335.3 915.4 332.8 905.4 325.3 900.4 340.3 895.4 350.4 885.3ZM410.5 855.3 425.5 845.2 436.8 832.7 448.1 841.5 468.1 841.5 480.7 832.7 493.2 825.2 505.7 810.2 510.7 810.2 523.3 827.7 525.8 835.2 523.3 847.8 515.8 855.3 525.8 860.3 525.8 865.3 513.3 872.8 490.7 884.1 478.2 890.3 465.6 895.4 453.1 906.6 445.6 902.9 440.6 905.4 425.5 887.8 416.8 870.3ZM329.1 960.5 340.3 951.7 362.9 943.0 370.4 938.0 372.9 929.2 388.0 922.9 405.5 919.2 415.5 910.4 425.5 911.6 435.6 930.4 445.6 945.5 453.1 963.0 460.6 978.1 459.4 984.3 405.5 984.3 370.4 986.8 334.1 986.8 326.6 960.5ZM425.5 911.6 440.6 905.4 445.6 902.9 453.1 906.6 465.6 895.4 478.2 890.3 490.7 887.8 498.2 890.3 508.2 902.9 518.3 920.4 525.8 938.0 527.0 948.0 518.3 953.0 485.7 969.3 460.6 978.1 453.1 963.0 445.6 945.5 435.6 930.4ZM525.8 835.2 553.3 826.5 578.4 820.2 580.9 827.7 590.9 842.7 603.5 854.0 588.4 862.8 590.9 876.6 580.9 880.3 560.9 885.3 540.8 884.1 525.8 887.8 518.3 895.4 508.2 902.9 498.2 890.3 490.7 884.1 513.3 872.8 525.8 865.3 525.8 860.3 515.8 855.3 523.3 847.8ZM508.2 902.9 518.3 895.4 525.8 887.8 540.8 884.1 560.9 885.3 580.9 880.3 590.9 876.6 601.0 895.4 617.5 912.9 625.0 920.4 620.0 925.4 595.9 935.5 570.9 944.2 563.4 946.7 540.8 945.5 527.0 948.0 525.8 938.0 518.3 920.4ZM460.6 978.1 485.7 969.3 518.3 953.0 527.0 948.0 540.8 945.5 563.4 946.7 570.9 944.2 580.9 960.5 595.9 980.6 606.0 995.6 550.8 995.6 495.7 993.1 468.1 990.6 455.6 988.1 459.4 984.3ZM578.5 820.2 596.0 812.7 603.5 807.7 598.5 800.1 598.5 792.6 606.0 787.6 616.1 790.1 617.6 796.4 630.1 792.6 647.6 782.6 665.2 777.6 671.4 777.6 677.7 786.4 673.9 793.9 679.0 811.4 665.2 825.2 647.6 835.2 615.1 847.8 603.5 854.0 591.0 842.7 581.0 827.7ZM677.7 786.4 700.3 765.1 705.3 762.6 700.3 757.5 705.3 750.0 715.3 745.0 732.8 746.3 752.9 740.0 760.4 750.0 766.7 761.3 760.4 772.6 750.4 792.6 715.3 807.7 710.3 811.4 697.8 806.4 679.0 811.4 673.9 793.9ZM603.5 854.0 615.1 847.8 647.6 835.2 651.4 840.2 662.7 845.2 663.9 857.8 655.2 862.8 661.4 880.3 662.7 891.6 652.6 897.9 647.6 909.1 625.1 920.4 617.6 912.9 601.0 895.4 591.0 876.6 588.5 862.8ZM679.0 811.4 697.8 806.4 710.3 811.4 715.3 820.2 722.8 835.2 727.8 850.3 727.8 861.5 722.8 865.3 715.3 870.3 707.8 877.8 692.7 887.8 680.2 889.1 662.7 891.6 661.4 880.3 655.2 862.8 663.9 857.8 662.7 845.2 651.4 840.2 647.6 835.2 665.2 825.2ZM710.3 811.4 715.3 807.7 750.4 792.6 790.5 812.7 790.5 834.0 782.9 837.7 775.4 847.8 765.4 856.5 755.4 850.3 745.4 852.8 740.3 862.8 727.8 861.5 727.8 850.3 722.8 835.2 715.3 820.2ZM727.8 861.5 740.3 862.8 740.3 880.3 739.1 895.4 725.3 902.9 712.8 912.9 705.3 920.4 700.3 930.4 690.2 940.5 682.7 953.0 676.5 964.3 665.2 940.5 647.6 909.1 652.6 897.9 662.7 891.6 680.2 889.1 692.7 887.8 707.8 877.8 715.3 870.3 722.8 865.3ZM740.3 862.8 745.4 852.8 755.4 850.3 765.4 856.5 775.4 847.8 782.9 837.7 790.5 834.0 803.0 837.7 813.0 845.2 825.5 857.8 835.6 872.8 836.8 880.3 831.8 902.9 828.1 932.9 818.0 938.0 804.2 943.0 788.0 939.2 762.9 934.2 750.4 938.0 745.4 927.9 730.3 922.9 712.8 919.2 705.3 920.4 712.8 912.9 725.3 902.9 739.1 895.4 740.3 880.3ZM676.5 964.3 682.7 953.0 690.2 940.5 700.3 930.4 705.3 920.4 712.8 919.2 730.3 922.9 745.4 927.9 750.4 938.0 742.9 950.5 741.6 965.5 746.6 973.0 746.6 998.1 665.2 998.1 650.1 996.8 642.6 975.5 636.4 970.5 652.6 974.3 662.7 976.8ZM571.0 944.2 596.0 935.5 620.1 925.4 625.1 920.4 647.6 909.1 665.2 940.5 676.5 964.3 662.7 976.8 652.6 974.3 636.4 970.5 642.6 975.5 650.1 996.8 606.0 995.6 596.0 980.6 581.0 960.5ZM750.4 938.0 762.9 934.2 788.0 939.2 804.2 943.0 818.0 938.0 826.8 934.2 824.3 953.0 820.5 973.0 816.8 998.1 746.6 998.1 746.6 973.0 741.6 965.5 742.9 950.5ZM836.8 880.3 845.6 881.6 853.1 880.3 855.6 872.8 859.4 874.1 866.9 871.6 873.2 870.3 880.7 860.3 886.9 857.8 893.2 862.8 900.7 859.0 909.5 862.8 910.7 870.3 928.3 871.6 930.8 880.3 925.8 910.4 918.3 948.0 913.3 978.1 908.2 1000.6 838.1 1000.6 816.8 998.1 820.5 973.0 824.3 953.0 828.1 932.9 831.8 902.9ZM790.5 812.7 800.5 810.2 799.2 795.1 815.5 778.8 830.6 777.6 833.1 782.6 840.6 781.3 843.1 772.6 855.6 765.1 861.9 752.5 865.6 745.0 875.7 747.5 880.7 757.5 888.2 767.6 903.2 771.3 909.5 780.1 905.7 790.1 890.7 825.2 873.2 860.3 866.9 871.6 859.4 874.1 855.6 872.8 853.1 880.3 845.6 881.6 836.8 880.3 835.6 872.8 825.5 857.8 813.0 845.2 803.0 837.7 790.5 834.0ZM905.7 790.1 913.3 788.9 920.8 786.4 928.3 792.6 935.8 786.4 945.8 786.4 953.3 805.2 960.9 825.2 978.4 840.2 973.4 857.8 964.6 885.3 950.8 881.6 930.8 880.3 928.3 871.6 910.7 870.3 909.5 862.8 900.7 859.0 893.2 862.8 886.9 857.8 880.7 860.3 873.2 870.3 866.9 871.6 873.2 860.3 890.7 825.2ZM945.8 786.4 963.4 770.1 980.9 760.0 990.9 770.1 1006.0 785.1 1020.0 795.1 1016.0 815.2 1005.0 836.5 993.4 837.7 978.4 840.2 960.9 825.2 953.3 805.2ZM930.8 880.3 950.8 881.6 964.6 885.3 968.4 892.9 983.4 900.4 993.4 890.3 1001.0 902.9 1003.5 920.4 1008.5 935.5 1013.5 960.5 1006.0 973.0 1001.0 1000.6 908.2 1000.6 913.3 978.1 918.3 948.0 925.8 910.4ZM1005.0 836.5 1002.5 839.0 1015.1 847.8 1020.1 854.0 1035.1 857.8 1043.9 869.1 1048.9 871.6 1043.9 890.3 1041.4 917.9 1013.8 960.5 1008.8 935.5 1000.0 915.4 997.5 900.4 992.5 889.1 983.5 900.4 968.4 892.9 964.7 885.3 978.5 840.2 993.5 836.5ZM1021.3 796.4 1027.6 806.4 1050.1 807.7 1065.2 816.4 1077.7 812.7 1089.0 802.6 1090.2 802.6 1090.2 822.7 1090.2 864.0 1062.7 865.3 1048.9 871.6 1043.9 869.1 1035.1 857.8 1020.1 854.0 1015.1 847.8 1002.5 839.0 1005.0 836.5 1016.1 815.2ZM1048.9 871.6 1062.7 865.3 1090.2 864.0 1097.8 867.8 1105.3 877.8 1117.8 885.3 1132.8 887.8 1131.6 915.4 1129.1 943.0 1105.3 940.5 1097.8 932.9 1075.2 927.9 1065.2 924.2 1041.4 917.9 1043.9 890.3ZM1041.4 917.9 1065.2 924.2 1075.2 927.9 1097.8 932.9 1105.3 940.5 1129.1 943.0 1127.8 1000.6 1001.3 999.4 1007.5 968.0 1013.8 960.5ZM1090.2 822.7 1115.3 830.2 1140.3 837.7 1162.9 844.0 1167.9 847.8 1155.4 852.8 1152.9 870.3 1152.9 892.9 1145.4 890.3 1132.8 887.8 1117.8 885.3 1105.3 877.8 1097.8 867.8 1090.2 864.0ZM1090.2 802.6 1092.7 787.6 1110.3 781.3 1120.3 775.1 1132.8 771.3 1150.4 776.3 1160.4 786.4 1160.4 797.6 1170.4 807.7 1175.4 820.2 1185.5 821.4 1198.0 820.2 1205.5 823.9 1200.5 830.2 1188.0 841.5 1175.4 844.0 1167.9 847.8 1162.9 844.0 1140.3 837.7 1115.3 830.2 1090.2 822.7ZM1167.9 847.8 1175.4 844.0 1188.0 841.5 1200.5 830.2 1205.5 823.9 1210.5 829.0 1223.0 831.5 1244.3 831.5 1245.6 865.3 1248.6 892.1 1208.0 919.2 1200.5 920.4 1198.0 915.4 1188.0 905.4 1175.4 895.4 1167.9 892.9 1152.9 892.9 1152.9 870.3 1155.4 852.8ZM1132.8 887.8 1145.4 890.3 1152.9 892.9 1167.9 892.9 1175.4 895.4 1188.0 905.4 1198.0 915.4 1200.5 920.4 1198.0 938.0 1195.5 960.5 1188.0 980.6 1177.9 1000.6 1127.8 1000.6 1129.1 943.0 1131.6 915.4ZM1200.5 920.4 1208.0 919.2 1215.5 924.2 1223.0 926.7 1231.8 920.4 1231.8 938.0 1230.6 955.5 1238.1 963.0 1250.6 983.1 1254.4 1000.6 1177.9 1000.6 1188.0 980.6 1195.5 960.5 1198.0 938.0ZM1208.0 919.2 1248.6 892.1 1290.7 864.0 1305.7 870.3 1325.8 881.6 1325.8 902.9 1290.7 927.9 1240.6 961.8 1238.1 963.0 1230.6 955.5 1231.8 938.0 1231.8 920.4 1223.0 926.7 1215.5 924.2ZM1238.1 963.0 1290.7 927.9 1325.8 902.9 1348.3 894.1 1353.3 910.4 1345.8 935.5 1335.8 953.0 1338.3 970.5 1334.6 998.1 1254.4 1000.6 1250.6 983.1ZM1244.3 831.5 1253.1 815.2 1265.6 813.9 1285.7 815.2 1303.2 820.2 1313.3 817.7 1323.3 827.7 1320.8 832.7 1290.7 864.0 1248.6 892.1 1245.6 865.3ZM1290.7 864.0 1320.8 832.7 1323.3 835.2 1340.8 840.2 1358.4 845.2 1370.9 852.8 1380.9 855.3 1380.9 872.8 1375.9 877.8 1348.3 894.1 1325.8 902.9 1325.8 881.6 1305.7 870.3ZM1160.4 797.6 1162.9 787.6 1170.4 785.1 1198.0 753.8 1215.5 755.0 1230.6 760.0 1240.6 766.3 1243.1 790.1 1248.1 802.6 1255.6 795.1 1260.6 805.2 1268.1 807.7 1265.6 813.9 1253.1 815.2 1244.3 831.5 1223.0 831.5 1210.5 829.0 1205.5 823.9 1198.0 820.2 1185.5 821.4 1175.4 820.2 1170.4 807.7ZM1268.1 807.7 1285.7 773.8 1298.2 780.1 1315.8 786.4 1330.8 790.1 1338.3 796.4 1340.8 807.7 1339.6 822.7 1323.3 827.7 1313.3 817.7 1303.2 820.2 1285.7 815.2 1265.6 813.9ZM1340.0 790.1 1351.3 786.3 1362.6 788.2 1368.2 793.8 1370.1 801.4 1366.3 805.1 1368.2 812.6 1372.0 820.1 1385.1 825.8 1396.4 833.3 1398.3 838.9 1395.4 846.4 1390.7 842.7 1385.1 838.9 1375.7 838.0 1372.0 840.8 1360.7 838.9 1356.9 834.2 1345.7 832.3 1344.7 818.3 1340.0 805.1 1338.2 797.6ZM1398.3 835.2 1403.9 840.8 1411.4 852.1 1422.7 865.2 1424.5 869.0 1420.8 876.5 1422.7 885.9 1426.4 895.2 1424.5 897.1 1420.8 889.6 1415.2 882.1 1407.6 878.3 1405.8 870.8 1396.4 865.2 1392.6 861.4 1392.6 852.1 1395.4 846.4 1398.3 838.9ZM1366.3 805.1 1370.1 801.4 1375.7 802.3 1381.4 808.9 1390.7 818.3 1400.1 827.6 1407.6 835.2 1415.2 838.9 1424.5 842.7 1430.2 850.2 1433.9 853.9 1443.3 853.0 1445.2 859.6 1441.4 863.3 1430.2 865.2 1424.5 868.0 1422.7 865.2 1411.4 852.1 1403.9 840.8 1398.3 835.2 1396.4 833.3 1385.1 825.8 1372.0 820.1 1368.2 812.6ZM1424.5 869.0 1430.2 866.1 1441.4 868.0 1454.6 869.0 1455.5 880.2 1450.8 884.9 1441.4 886.8 1433.9 891.5 1430.2 895.2 1426.4 895.2 1422.7 885.9 1420.8 876.5ZM1383.2 750.7 1388.9 748.8 1407.6 756.3 1420.8 765.7 1420.8 782.6 1422.7 797.6 1418.9 803.2 1426.4 807.0 1424.5 812.6 1418.9 816.4 1420.8 820.1 1432.1 820.1 1437.7 822.9 1433.9 829.5 1422.7 829.5 1413.3 827.6 1398.3 812.6 1385.1 795.7 1375.7 782.6 1381.4 775.1 1380.4 763.8ZM1422.7 771.3 1432.1 770.4 1441.4 775.1 1449.0 780.7 1458.3 784.5 1459.3 799.5 1454.6 814.5 1449.0 810.7 1445.2 801.4 1439.6 795.7 1430.2 792.0 1426.4 795.7 1422.7 786.3ZM1349.4 893.4 1375.7 878.3 1380.4 880.2 1394.5 889.6 1415.2 902.8 1409.5 908.4 1375.7 938.4 1338.4 970.5 1335.9 953.1 1345.9 935.4 1353.4 910.4 1348.3 894.1ZM1375.7 938.4 1409.5 908.4 1415.2 902.8 1417.0 917.8 1426.4 917.8 1422.7 927.2 1420.8 945.0 1418.9 961.0 1417.6 999.6 1335.2 998.9 1336.3 983.5 1338.4 970.5ZM1426.3 917.3 1443.8 919.8 1448.8 902.3 1463.8 907.3 1471.3 912.3 1466.3 922.3 1471.3 929.8 1458.8 934.8 1463.8 942.3 1478.8 957.2 1491.3 964.7 1481.3 974.7 1478.8 984.7 1483.8 998.4 1417.6 999.2 1417.6 964.7 1421.3 937.3ZM1471.3 912.3 1478.8 909.8 1488.8 914.8 1501.3 909.8 1511.2 919.8 1516.2 939.8 1523.7 964.7 1531.2 989.7 1533.7 999.7 1523.7 999.7 1521.2 982.2 1513.7 977.2 1510.0 989.7 1511.2 999.7 1498.8 1002.2 1496.3 994.7 1483.8 998.4 1478.8 984.7 1481.3 974.7 1491.3 964.7 1478.8 957.2 1463.8 942.3 1458.8 934.8 1471.3 929.8 1466.3 922.3ZM830.6 503.8 840.6 510.1 849.4 520.1 853.1 535.1 860.6 541.4 873.2 545.2 889.4 547.7 883.2 562.7 873.2 580.2 868.1 592.8 859.4 599.0 848.1 600.3 830.6 597.8 815.5 591.5 799.2 585.2 795.5 576.5 808.0 562.7 813.0 552.7 816.8 535.1 816.8 520.1 823.0 507.6ZM799.2 585.2 815.5 591.5 830.6 597.8 848.1 600.3 859.4 599.0 859.4 615.3 863.1 630.3 853.1 640.4 840.6 660.4 833.1 675.5 823.0 685.5 815.5 680.5 800.5 675.5 782.9 672.9 775.4 662.9 765.4 657.9 750.4 665.4 760.4 652.9 765.4 640.4 770.4 620.3 777.9 605.3 785.5 592.8ZM750.4 665.4 765.4 657.9 775.4 662.9 782.9 672.9 800.5 675.5 815.5 680.5 823.0 685.5 833.1 675.5 838.1 678.0 828.1 693.0 820.5 705.5 795.5 700.5 785.5 705.5 780.4 718.1 765.4 730.6 755.4 738.1 740.3 741.9 732.8 746.1 715.3 745.6 706.5 725.6 712.8 715.5 717.8 700.5 730.3 688.0 740.3 675.5ZM889.4 547.7 905.7 536.4 940.8 557.7 970.9 577.7 993.4 590.3 988.4 605.3 975.9 630.3 968.4 645.4 963.4 660.4 945.8 675.5 935.8 670.4 920.8 675.5 908.2 665.4 890.7 652.9 873.2 640.4 863.1 630.3 859.4 615.3 859.4 599.0 868.1 592.8 873.2 580.2 883.2 562.7ZM853.1 640.4 863.1 630.3 873.2 640.4 890.7 652.9 908.2 665.4 920.8 675.5 918.3 685.5 913.3 700.5 900.7 695.5 893.2 705.5 885.7 720.6 873.2 740.6 863.1 745.6 858.1 760.7 850.6 758.1 840.6 745.6 828.1 730.6 820.5 725.6 820.5 705.5 828.1 693.0 838.1 678.0 833.1 675.5 840.6 660.4ZM755.4 738.1 765.4 730.6 780.4 718.1 785.5 705.5 795.5 700.5 820.5 705.5 820.5 725.6 828.1 730.6 840.6 745.6 850.6 758.1 855.6 765.1 843.1 772.6 840.6 781.4 833.1 782.6 830.6 777.6 815.5 778.8 799.2 795.1 800.5 810.2 790.5 812.7 750.4 792.6 760.4 772.6 766.7 761.3 760.4 750.0ZM863.1 745.6 873.2 740.6 885.7 720.6 893.2 705.5 900.7 695.5 913.3 700.5 923.3 698.0 933.3 705.5 938.3 718.1 950.8 728.1 958.4 740.6 965.9 758.1 970.9 765.7 963.4 770.1 945.8 786.4 935.8 786.4 928.3 792.6 920.8 786.4 913.3 788.9 905.7 790.1 909.5 780.1 903.2 771.3 888.2 767.6 880.7 757.5 875.7 747.5 865.6 745.0 858.1 760.7ZM920.8 675.5 935.8 670.4 945.8 675.5 963.4 660.4 968.4 645.4 975.9 650.4 983.4 665.4 990.9 680.5 1003.5 698.0 1013.5 715.5 1001.0 725.6 985.9 733.1 981.4 745.6 980.4 759.4 970.9 765.7 965.9 758.1 958.4 740.6 950.8 728.1 938.3 718.1 933.3 705.5 923.3 698.0 913.3 700.5 918.3 685.5ZM993.5 590.3 1012.6 582.7 1037.6 590.3 1065.2 602.8 1092.7 616.6 1087.7 632.9 1077.7 652.9 1065.2 675.5 1047.6 700.5 1043.9 708.0 1032.6 710.5 1013.6 715.5 1003.5 698.0 991.0 680.5 983.5 665.4 976.0 650.4 968.4 645.4 976.0 630.3 988.5 605.3ZM1012.6 582.7 1017.6 572.7 1030.1 562.7 1036.4 551.4 1043.9 542.6 1050.1 547.7 1055.2 560.2 1062.7 572.7 1077.7 587.8 1065.2 602.8 1037.6 590.3ZM1071.4 497.5 1090.2 515.1 1100.3 522.6 1112.8 540.1 1112.8 562.7 1116.5 572.7 1102.8 580.2 1090.2 592.8 1077.7 587.8 1062.7 572.7 1055.2 560.2 1050.1 547.7 1043.9 542.6 1048.9 537.6 1052.6 522.6 1062.7 507.6ZM1140.6 480.5 1150.4 482.5 1156.6 492.5 1157.9 507.6 1170.4 525.1 1177.9 540.1 1190.5 547.7 1200.5 550.2 1198.0 555.2 1185.5 557.7 1170.4 555.2 1150.4 553.9 1135.3 562.7 1122.8 570.2 1116.5 572.7 1112.8 562.7 1112.8 540.1 1100.5 521.8 1115.5 505.6 1130.6 490.5ZM1220.5 512.6 1235.6 507.6 1250.6 517.6 1260.6 525.1 1259.4 542.6 1263.1 560.2 1259.4 567.7 1255.6 585.2 1245.6 587.8 1235.6 575.2 1225.5 567.7 1215.5 567.7 1210.5 560.2 1200.5 555.2 1200.5 550.2 1203.0 540.1 1210.5 527.6ZM1259.4 567.7 1278.2 567.7 1290.7 562.7 1308.2 556.4 1313.3 560.2 1313.3 580.2 1303.2 587.8 1303.2 607.8 1300.7 615.3 1295.7 610.3 1283.2 602.8 1273.2 590.3 1265.6 587.8 1255.6 585.2ZM1077.7 587.8 1090.2 592.8 1102.8 580.2 1116.5 572.7 1122.8 570.2 1135.3 562.7 1150.4 553.9 1170.4 555.2 1185.5 557.7 1170.4 582.7 1150.4 612.8 1135.3 614.1 1117.8 612.8 1092.7 616.6 1065.2 602.8ZM1185.5 557.7 1198.0 555.2 1200.5 555.2 1210.5 560.2 1215.5 567.7 1225.5 567.7 1235.6 575.2 1245.6 587.8 1235.6 605.3 1200.5 647.9 1195.5 650.4 1185.5 635.4 1165.4 622.8 1150.4 612.8 1170.4 582.7ZM1245.6 587.8 1255.6 585.2 1265.6 587.8 1273.2 590.3 1283.2 602.8 1295.7 610.3 1300.7 615.3 1293.2 620.3 1293.2 632.9 1303.2 652.9 1285.7 657.9 1283.2 672.9 1273.2 675.5 1260.6 690.5 1250.6 700.5 1240.6 683.0 1233.1 672.9 1220.5 665.4 1213.0 657.9 1200.5 647.9 1235.6 605.3ZM1092.7 616.6 1117.8 612.8 1135.3 614.1 1150.4 612.8 1165.4 622.8 1185.5 635.4 1195.5 650.4 1190.5 667.9 1182.9 688.0 1177.9 710.5 1162.9 708.0 1152.9 705.5 1145.4 690.5 1135.3 680.5 1120.3 674.2 1100.3 665.4 1077.7 652.9 1087.7 632.9ZM1077.7 652.9 1100.3 665.4 1120.3 674.2 1110.3 698.0 1104.0 711.8 1097.8 714.3 1087.7 725.6 1065.2 716.8 1043.9 708.0 1047.6 700.5 1065.2 675.5ZM1120.3 674.2 1135.3 680.5 1145.4 690.5 1152.9 705.5 1162.9 708.0 1177.9 710.5 1200.5 716.8 1203.0 730.6 1205.5 750.6 1200.5 751.9 1190.5 745.6 1165.4 733.1 1145.4 724.3 1142.9 738.1 1115.3 733.1 1112.8 718.1 1104.0 711.8 1110.3 698.0ZM1195.5 650.4 1200.5 647.9 1213.0 657.9 1220.5 665.4 1233.1 672.9 1240.6 683.0 1250.6 700.5 1255.6 705.5 1263.1 715.5 1273.2 713.0 1280.7 725.6 1294.5 738.1 1288.2 748.1 1275.7 755.6 1255.6 743.1 1245.6 738.1 1240.6 728.1 1228.1 718.1 1203.0 718.1 1200.5 716.8 1177.9 710.5 1182.9 688.0 1190.5 667.9ZM1260.6 690.5 1273.2 675.5 1283.2 672.9 1288.2 678.0 1295.7 693.0 1303.2 708.0 1315.8 716.8 1333.3 725.6 1345.8 740.6 1358.9 747.6 1359.4 761.9 1352.8 765.2 1347.6 758.1 1343.8 750.6 1338.1 758.1 1328.8 759.1 1317.5 748.9 1308.2 743.1 1294.5 738.1 1280.7 725.6 1273.2 713.0 1263.1 715.5 1255.6 705.5 1250.6 700.5ZM1285.7 657.9 1303.2 652.9 1310.7 665.4 1315.8 678.0 1328.3 693.0 1340.8 700.5 1358.4 700.5 1365.9 708.0 1368.9 722.3 1373.9 734.8 1383.9 747.4 1383.2 750.6 1380.4 763.9 1381.4 775.2 1375.6 782.7 1362.4 765.2 1359.4 761.9 1358.9 747.6 1345.8 740.6 1333.3 725.6 1315.8 716.8 1303.2 708.0 1295.7 693.0 1288.2 678.0 1283.2 672.9ZM1013.6 715.5 1032.6 710.5 1043.9 708.0 1065.2 716.8 1087.7 725.6 1080.2 745.6 1072.7 765.1 1050.1 807.7 1027.6 806.4 1021.3 796.4 1006.0 785.1 991.0 770.1 981.0 760.1 981.5 745.6 986.0 733.1 1001.0 725.6ZM1087.7 725.6 1097.8 714.3 1104.0 711.8 1112.8 718.1 1115.3 733.1 1112.8 740.0 1110.3 781.4 1092.7 787.6 1090.2 802.7 1077.7 812.7 1065.2 816.4 1050.1 807.7 1072.7 765.1 1080.2 745.6ZM1115.3 733.1 1142.9 738.1 1145.4 724.3 1165.4 733.1 1190.5 745.6 1200.5 751.9 1198.0 753.8 1170.4 785.1 1162.9 787.6 1160.4 786.4 1150.4 776.3 1132.8 771.3 1120.3 775.1 1110.3 781.4 1112.8 740.0ZM1203.0 718.1 1228.1 718.1 1240.6 728.1 1245.6 738.1 1255.6 743.1 1275.7 755.6 1280.7 767.6 1285.7 773.8 1268.1 807.7 1260.6 805.2 1255.6 795.1 1248.1 802.7 1243.1 790.1 1240.6 766.3 1230.6 760.1 1215.5 755.0 1200.5 751.9 1205.5 750.6 1203.0 730.6ZM1275.7 755.6 1288.2 748.1 1294.5 738.1 1308.2 743.1 1317.5 748.9 1328.8 759.1 1338.1 758.1 1343.8 750.6 1347.6 758.1 1352.8 765.2 1357.9 768.2 1363.4 778.9 1365.1 788.7 1351.3 786.2 1340.1 790.0 1338.1 793.7 1328.8 792.0 1319.3 786.2 1310.0 784.5 1298.7 778.7 1285.7 773.8 1280.7 767.6ZM1293.2 620.3 1293.2 632.8 1303.2 652.9 1310.7 665.4 1315.7 677.9 1328.2 692.8 1340.7 700.3 1358.4 700.3 1365.9 707.8 1373.7 703.6 1357.9 678.9 1340.4 657.9 1330.0 642.2 1331.5 632.4 1321.5 627.4 1304.0 622.4 1300.7 615.3ZM1303.2 587.7 1313.2 580.2 1326.5 590.0 1329.0 600.0 1343.9 607.4 1361.4 614.9 1373.9 619.9 1373.9 613.7 1378.9 613.7 1381.4 619.9 1391.4 619.9 1398.9 629.9 1403.9 634.9 1403.9 642.4 1396.4 644.9 1391.4 652.4 1383.9 653.6 1363.9 652.4 1358.9 642.4 1348.9 632.4 1341.4 622.4 1331.5 632.4 1321.5 627.4 1304.0 622.4 1300.7 615.3 1303.2 607.7ZM1331.5 632.4 1341.4 622.4 1348.9 632.4 1358.9 642.4 1363.9 652.4 1383.9 653.6 1391.4 659.9 1403.9 667.4 1406.4 682.4 1406.4 689.8 1398.9 689.8 1388.9 696.1 1386.6 699.3 1374.5 688.8 1364.0 673.2 1350.1 657.6 1336.2 642.2 1333.4 635.7ZM1391.4 652.4 1396.4 644.9 1403.9 642.4 1411.4 647.4 1413.9 654.9 1423.8 652.4 1438.8 662.4 1451.3 669.9 1461.3 672.4 1461.3 684.9 1458.8 692.3 1448.8 687.4 1441.3 692.3 1446.3 702.3 1446.3 714.8 1438.8 719.8 1436.3 709.8 1433.8 699.8 1423.8 692.3 1406.4 689.8 1406.4 682.4 1403.9 667.4 1391.4 659.9 1383.9 653.6ZM1388.9 696.1 1398.9 689.8 1406.4 689.8 1423.8 692.3 1433.8 699.8 1436.3 709.8 1438.8 719.8 1441.3 729.8 1441.3 739.8 1439.6 739.0 1419.6 733.8 1409.4 728.8 1405.9 716.6 1395.4 709.4 1386.6 699.3ZM1373.7 703.6 1392.9 717.8 1396.4 733.3 1405.4 744.3 1428.8 747.8 1448.1 754.8 1448.8 762.3 1438.8 764.8 1418.8 762.3 1403.9 754.8 1383.9 747.3 1373.9 734.8 1368.9 722.3 1365.9 707.8ZM1070.4 296.3 1082.9 305.1 1100.5 320.1 1125.5 342.6 1118.0 362.7 1108.0 385.2 1103.0 400.3 1077.9 401.5 1074.2 384.0 1057.9 384.0 1050.3 396.5 1027.8 397.8 1030.3 390.3 1045.3 380.2 1054.1 365.2 1050.3 355.2 1055.4 340.1 1060.4 325.1 1062.9 307.6ZM1125.5 342.6 1138.1 352.7 1150.6 362.7 1160.6 370.2 1155.6 385.2 1145.6 395.3 1133.0 407.8 1120.5 402.8 1103.0 400.3 1108.0 385.2 1118.0 362.7ZM1160.6 370.2 1170.6 355.2 1183.2 328.9 1208.2 331.4 1220.7 340.1 1233.3 350.2 1230.8 360.2 1218.2 367.7 1220.7 377.7 1238.3 390.3 1255.5 393.3 1242.9 410.8 1231.7 426.1 1221.9 441.5 1217.7 438.7 1206.6 426.1 1195.7 420.3 1175.6 412.8 1153.1 406.5 1140.6 404.0 1133.0 407.8 1145.6 395.3 1155.6 385.2ZM1133.0 407.8 1140.6 404.0 1153.1 406.5 1175.6 412.8 1195.7 420.3 1189.4 430.3 1190.7 445.4 1200.7 470.4 1210.7 495.5 1220.7 513.0 1210.7 528.1 1203.2 540.6 1200.7 550.6 1190.7 548.1 1178.1 540.6 1170.6 525.6 1158.1 508.0 1153.1 483.0 1140.6 480.5 1133.0 475.5 1130.5 460.4 1120.5 447.9 1110.5 437.9 1118.0 430.3 1125.5 417.8ZM1077.9 401.5 1103.0 400.3 1120.5 402.8 1133.0 407.8 1125.5 417.8 1118.0 430.3 1110.5 437.9 1100.5 445.4 1092.9 460.4 1077.9 460.4 1065.4 445.4 1072.9 430.3 1076.7 420.3 1071.6 410.3ZM1027.8 397.8 1050.3 396.5 1057.9 384.0 1074.2 384.0 1077.9 401.5 1071.6 410.3 1076.7 420.3 1072.9 430.3 1065.4 445.4 1050.3 460.4 1032.8 470.4 1020.3 485.5 1010.3 500.5 972.7 462.9 980.2 442.9 987.7 427.8 997.7 417.8 1002.7 425.3 1010.3 410.3 1025.3 405.3ZM1010.3 500.5 1020.3 485.5 1032.8 470.4 1050.3 460.4 1065.4 445.4 1077.9 460.4 1072.9 480.5 1072.9 495.5 1060.4 510.5 1050.3 530.6 1047.8 543.1 1036.6 551.9 1015.3 533.1 1005.2 520.6ZM950.1 442.9 972.7 462.9 1010.3 500.5 1005.2 520.6 1015.3 533.1 1036.6 551.9 1030.1 562.7 1017.5 572.7 1012.5 582.7 993.5 590.2 970.9 577.7 940.8 557.6 905.8 536.3 913.3 520.1 923.3 495.0 928.3 480.0 932.6 470.4 937.6 455.4ZM1077.9 460.4 1092.9 460.4 1100.5 445.4 1110.5 437.9 1120.5 447.9 1130.5 460.4 1133.0 475.5 1140.6 480.5 1130.5 490.5 1115.5 505.5 1100.5 521.8 1090.4 515.5 1080.4 503.0 1072.9 495.5 1072.9 480.5ZM1195.7 420.2 1206.6 426.1 1217.7 438.7 1221.9 441.5 1228.9 452.7 1240.1 455.5 1244.3 466.6 1249.9 475.0 1265.2 477.8 1269.4 484.8 1277.8 489.0 1279.9 500.9 1275.0 508.6 1269.4 518.4 1260.6 525.1 1250.6 517.7 1235.6 507.6 1220.7 513.0 1210.7 495.4 1200.7 470.4 1190.6 445.4 1189.4 430.3ZM1255.5 393.3 1266.6 397.5 1272.2 408.0 1276.4 413.5 1286.2 414.9 1296.0 419.1 1305.8 435.9 1310.0 445.7 1312.1 455.5 1310.0 458.3 1310.0 475.0 1304.4 480.6 1294.6 484.1 1290.4 491.8 1287.6 498.8 1279.9 500.9 1277.8 489.0 1269.4 484.8 1265.2 477.8 1249.9 475.0 1244.3 466.6 1240.1 455.5 1228.9 452.7 1221.9 441.5 1231.7 426.1 1242.9 410.7ZM1575.2 648.8 1583.6 646.0 1599.0 643.2 1615.8 641.1 1621.4 641.8 1618.6 650.2 1613.0 658.5 1611.6 665.5 1608.8 672.5 1607.4 683.7 1601.8 694.9 1600.4 700.5 1587.8 713.0 1585.0 720.0 1585.0 728.4 1582.2 735.4 1580.8 745.2 1578.0 748.0 1569.7 753.6 1565.5 763.4 1559.9 773.1 1545.9 774.5 1543.1 763.4 1538.9 759.9 1520.0 755.0 1522.1 745.2 1527.7 743.8 1527.7 735.4 1536.1 725.6 1538.9 715.8 1543.1 708.9 1541.7 703.3 1550.1 702.6 1555.7 704.7 1557.1 694.9 1559.9 689.3 1565.5 686.5 1562.7 679.5 1557.1 672.5 1558.5 668.3 1572.5 663.4 1573.9 653.0ZM1631.1 638.3 1643.7 638.3 1650.7 641.8 1647.9 647.4 1643.7 654.3 1635.3 661.3 1631.1 668.3 1629.8 683.7 1623.5 683.7 1623.5 665.5 1628.4 655.7 1635.3 647.4 1638.1 641.8ZM1519.0 755.4 1529.4 756.8 1540.6 761.0 1544.1 766.6 1544.1 774.9 1543.4 787.5 1544.1 798.7 1540.6 804.3 1532.2 809.9 1529.4 818.3 1528.0 829.4 1523.9 835.0 1519.7 842.0 1518.3 850.4 1521.1 856.0 1515.5 858.8 1512.7 857.4 1507.1 849.0 1502.9 840.6 1503.6 829.4 1502.9 818.3 1505.7 807.1 1508.5 800.1 1514.1 794.5 1509.9 787.5 1511.3 781.9 1516.9 776.3 1516.9 762.4Z" fill="none" stroke="#bebebe" stroke-width="2.1" stroke-linejoin="round" opacity="0.8"/>
<use href="#bd" opacity="1" style="mix-blend-mode:luminosity"/>
</g>
<g id="legend" filter="url(#bt)">
<rect x="22.3" y="715" width="60.9" height="305.5" fill="url(#lg)"/>
<path d="M22.3 788.2 h9.7 M71 788.2 h10.5" stroke="#fff" stroke-width="1.9" fill="none" opacity="0.85"/>
<path d="M22.3 865.7 h9.7 M71 865.7 h10.5" stroke="#fff" stroke-width="1.9" fill="none" opacity="0.85"/>
<path d="M22.3 943.2 h9.7 M71 943.2 h10.5" stroke="#fff" stroke-width="1.9" fill="none" opacity="0.85"/>
<text class="lg" x="20.24" y="695.6" font-size="32.5" textLength="164.96" lengthAdjust="spacingAndGlyphs">% Increase</text>
<text class="lg" x="96.43" y="800" font-size="25.5" textLength="71.80" lengthAdjust="spacingAndGlyphs">300%</text>
<text class="lg" x="95.65" y="877.4" font-size="25.5" textLength="72.75" lengthAdjust="spacingAndGlyphs">200%</text>
<text class="lg" x="97.71" y="954.8" font-size="25.5" textLength="70.74" lengthAdjust="spacingAndGlyphs">100%</text>
</g>
<text class="b" y="108" font-size="68"><tspan x="154.57" textLength="337.84" lengthAdjust="spacingAndGlyphs">Percentage</tspan> <tspan x="509.46" textLength="249.67" lengthAdjust="spacingAndGlyphs">Increase</tspan> <tspan x="774.20" textLength="56.68" lengthAdjust="spacingAndGlyphs">in</tspan> <tspan x="846.85" textLength="148.59" lengthAdjust="spacingAndGlyphs">Early</tspan> <tspan x="1011.08" textLength="204.99" lengthAdjust="spacingAndGlyphs">Voting</tspan> <tspan x="1227.80" textLength="56.04" lengthAdjust="spacingAndGlyphs">in</tspan> <tspan x="1297.78" textLength="229.78" lengthAdjust="spacingAndGlyphs">Virginia</tspan></text>
<text class="b" y="200.5" font-size="68"><tspan x="192.62" textLength="415.76" lengthAdjust="spacingAndGlyphs">Gubernatorial</tspan> <tspan x="624.50" textLength="270.88" lengthAdjust="spacingAndGlyphs">Elections</tspan> <tspan x="910.99" textLength="144.47" lengthAdjust="spacingAndGlyphs">from</tspan> <tspan x="1071.06" textLength="154.49" lengthAdjust="spacingAndGlyphs">2017</tspan> <tspan x="1241.94" textLength="63.93" lengthAdjust="spacingAndGlyphs">to</tspan> <tspan x="1319.63" textLength="153.32" lengthAdjust="spacingAndGlyphs">2021</tspan></text>
<text class="r" y="280.5" font-size="53.5"><tspan x="642.54" textLength="66.27" lengthAdjust="spacingAndGlyphs">(as</tspan> <tspan x="722.55" textLength="50.07" lengthAdjust="spacingAndGlyphs">of</tspan> <tspan x="787.27" textLength="255.22" lengthAdjust="spacingAndGlyphs">10/19/21)</tspan></text>
<circle cx="1298.8" cy="433" r="13.8" fill="#000"/>
<text class="r" y="422" font-size="57"><tspan x="1313.64" textLength="262.23" lengthAdjust="spacingAndGlyphs">Alexandria</tspan></text>
<circle cx="1028.6" cy="661" r="13.8" fill="#000"/>
<text class="r" y="641" font-size="57"><tspan x="661.13" textLength="362.26" lengthAdjust="spacingAndGlyphs">Charlottesville</tspan></text>
<circle cx="1511.3" cy="955.6" r="13.8" fill="#000"/>
<text class="r" y="901" font-size="57"><tspan x="1513.56" textLength="187.79" lengthAdjust="spacingAndGlyphs">Virginia</tspan></text>
<text class="r" y="958" font-size="57"><tspan x="1532.48" textLength="153.98" lengthAdjust="spacingAndGlyphs">Beach</tspan></text>
<text y="1096.3" font-size="46.5"><tspan class="b" x="25.53" textLength="96.98" lengthAdjust="spacingAndGlyphs">Data</tspan> <tspan class="b" x="135.31" textLength="155.43" lengthAdjust="spacingAndGlyphs">Source:</tspan> <tspan class="r" x="299.81" textLength="150.51" lengthAdjust="spacingAndGlyphs">Virginia</tspan> <tspan class="r" x="464.78" textLength="121.79" lengthAdjust="spacingAndGlyphs">Public</tspan> <tspan class="r" x="598.53" textLength="139.02" lengthAdjust="spacingAndGlyphs">Access</tspan> <tspan class="r" x="749.21" textLength="143.04" lengthAdjust="spacingAndGlyphs">Project</tspan></text>
</svg>
</body>
</html>
